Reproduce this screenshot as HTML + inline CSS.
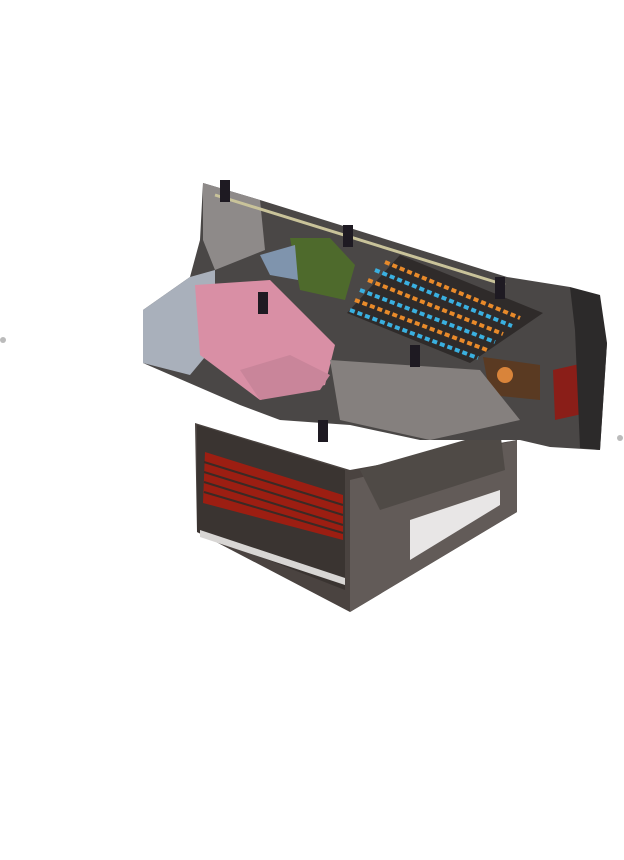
<!DOCTYPE html>
<html><head><meta charset="utf-8"><style>
html,body{margin:0;padding:0;background:#fff;width:624px;height:860px;overflow:hidden}
svg{display:block}
</style></head><body>
<svg width="624" height="860" viewBox="0 0 624 860">
<g>
<polygon points="195,423 350,470 517,440 517,512 350,612 197,532" fill="#4a4340"/>
<polygon points="197,425 345,470 345,590 197,532" fill="#3a3431"/>
<polygon points="205,452 343,495 343,540 203,503" fill="#9c1e12"/>
<g stroke="#3a2a25" stroke-width="2">
<line x1="204" y1="462" x2="343" y2="505"/><line x1="204" y1="472" x2="343" y2="515"/><line x1="204" y1="482" x2="343" y2="525"/><line x1="204" y1="492" x2="343" y2="533"/>
</g>
<polygon points="200,530 345,578 345,585 200,537" fill="#d8d6d4"/>
<polygon points="350,480 517,440 517,512 350,612" fill="#625b58"/>
<polygon points="410,520 500,490 500,505 410,560" fill="#e8e6e6"/>
<polygon points="360,470 500,430 505,470 380,510" fill="#4f4a46"/>
</g>
<g>
<polygon points="143,310 190,277 200,240 203,183 260,200 507,277 570,287 607,343 600,450 550,447 520,440 420,440 350,425 280,420 240,405 143,363" fill="#4a4746"/>
<polygon points="143,310 190,277 215,270 215,345 190,375 143,363" fill="#a9b0bb"/>
<polygon points="203,183 260,200 265,250 215,270 203,240" fill="#8e8a89"/>
<polygon points="195,285 270,280 335,345 325,385 260,400 200,355" fill="#d98fa5"/>
<polygon points="240,370 290,355 330,375 320,390 260,400" fill="#c9859a"/>
<polygon points="290,238 330,238 355,265 345,300 300,290" fill="#4e6a2c"/>
<polygon points="260,255 295,245 298,280 270,275" fill="#7f94ad"/>
<polygon points="400,255 543,313 470,363 347,313" fill="#2f2b2a"/>
<g stroke-width="4">
<line x1="385" y1="262" x2="520" y2="318" stroke="#e88a2a" stroke-dasharray="5 3"/>
<line x1="375" y1="270" x2="512" y2="326" stroke="#3ab0e0" stroke-dasharray="5 3"/>
<line x1="368" y1="280" x2="503" y2="334" stroke="#e88a2a" stroke-dasharray="5 3"/>
<line x1="360" y1="290" x2="495" y2="342" stroke="#3ab0e0" stroke-dasharray="5 3"/>
<line x1="355" y1="300" x2="487" y2="350" stroke="#e88a2a" stroke-dasharray="5 3"/>
<line x1="350" y1="310" x2="478" y2="358" stroke="#3ab0e0" stroke-dasharray="5 3"/>
</g>
<polygon points="483,357 540,365 540,400 490,395" fill="#5a3a22"/>
<circle cx="505" cy="375" r="8" fill="#d9843a"/>
<polygon points="553,370 597,360 600,410 555,420" fill="#8a1e18"/>
<polygon points="570,287 600,295 607,343 600,450 580,448 575,330" fill="#2c2a2a"/>
<polygon points="330,360 480,370 520,420 430,440 340,420" fill="#85807e"/>
<line x1="215" y1="195" x2="505" y2="285" stroke="#c9c39a" stroke-width="3"/>
<rect x="220" y="180" width="10" height="22" fill="#1e1a22"/>
<rect x="343" y="225" width="10" height="22" fill="#1e1a22"/>
<rect x="495" y="277" width="10" height="22" fill="#1e1a22"/>
<rect x="258" y="292" width="10" height="22" fill="#1e1a22"/>
<rect x="410" y="345" width="10" height="22" fill="#1e1a22"/>
<rect x="318" y="420" width="10" height="22" fill="#1e1a22"/>
</g>
<circle cx="3" cy="340" r="3" fill="#bbbbbb"/>
<circle cx="620" cy="438" r="3" fill="#bbbbbb"/>
</svg>
</body></html>
